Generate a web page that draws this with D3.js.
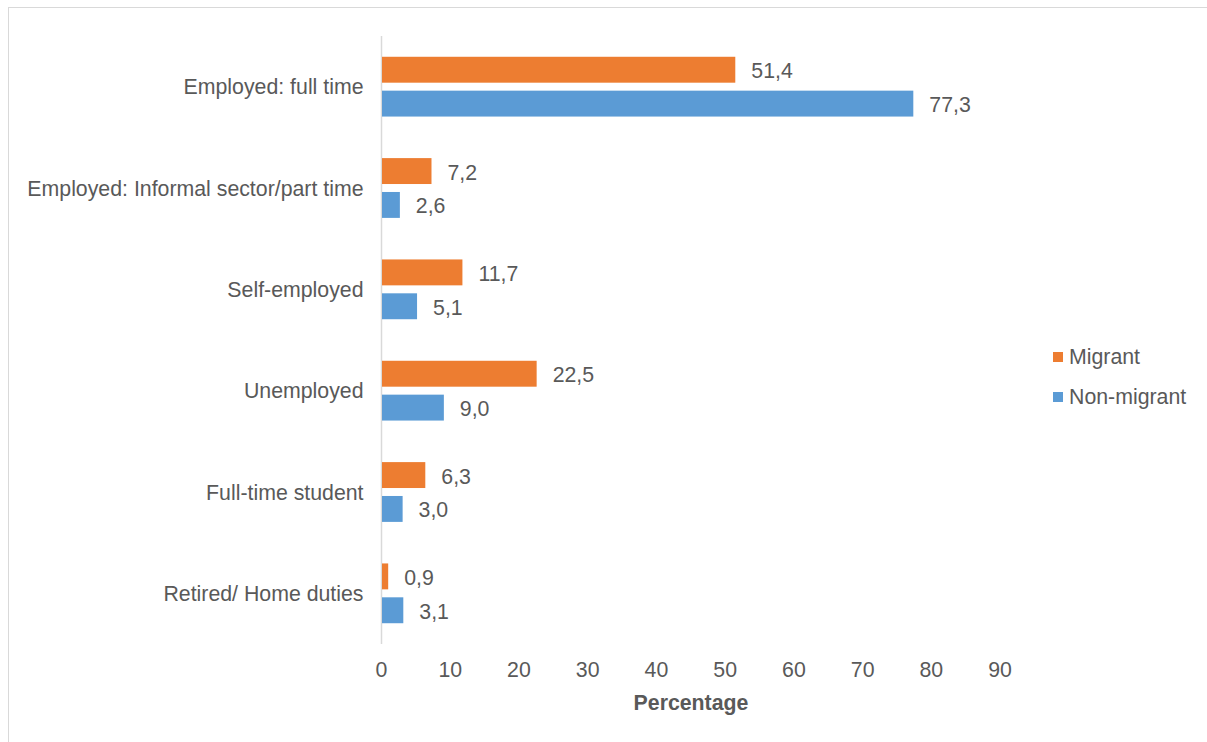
<!DOCTYPE html>
<html>
<head>
<meta charset="utf-8">
<script src="https://cdn.jsdelivr.net/npm/d3@7"></script>
<style>
  html, body { margin: 0; padding: 0; background: #fff; }
  svg { display: block; font-family: "Liberation Sans", Arial, sans-serif; }
</style>
</head>
<body>
<svg id="chart" width="1207" height="742"></svg>
<script>
const categories = ["Employed: full time", "Employed: Informal sector/part time", "Self-employed", "Unemployed", "Full-time student", "Retired/ Home duties"];
const seriesNames = ["Migrant", "Non-migrant"];
const migrant = [51.4, 7.2, 11.7, 22.5, 6.3, 0.9];
const nonMigrant = [77.3, 2.6, 5.1, 9.0, 3.0, 3.1];
const xTicks = [0, 10, 20, 30, 40, 50, 60, 70, 80, 90];
const colors = ["#ED7D31", "#5B9BD5"];

const svg = d3.select("#chart");
const textColor = "#595959";
const fs = 21.3;

// outer frame
svg.append("rect").attr("x", 8.5).attr("y", 7.5).attr("width", 1220).attr("height", 760)
  .attr("fill", "none").attr("stroke", "#D9D9D9").attr("stroke-width", 1);

const x = d3.scaleLinear().domain([0, 90]).range([382, 1000.6]);
const y = d3.scaleBand().domain(categories).range([36, 644]).paddingInner(0.41).paddingOuter(0.205);
const sub = d3.scaleBand().domain(seriesNames).range([0, y.bandwidth()]).paddingInner(0.235);

// axis line
svg.append("line").attr("x1", 381.5).attr("x2", 381.5).attr("y1", 36).attr("y2", 644)
  .attr("stroke", "#D9D9D9").attr("stroke-width", 1.5);

const data = [migrant, nonMigrant];
seriesNames.forEach((s, si) => {
  const g = svg.append("g");
  g.selectAll("rect").data(categories).enter().append("rect")
    .attr("x", x(0))
    .attr("y", (c) => y(c) + sub(s))
    .attr("width", (c, i) => x(data[si][i]) - x(0))
    .attr("height", sub.bandwidth())
    .attr("fill", colors[si]);
  g.selectAll("text").data(categories).enter().append("text")
    .attr("x", (c, i) => x(data[si][i]) + 16)
    .attr("y", (c) => y(c) + sub(s) + sub.bandwidth() / 2 + 1)
    .attr("dy", "0.35em")
    .attr("font-size", fs).attr("fill", textColor)
    .text((c, i) => d3.format(".1f")(data[si][i]).replace(".", ","));
});

// category labels
const yAxis = d3.axisLeft(y).tickSize(0).tickPadding(18);
const ya = svg.append("g").attr("transform", "translate(381.5,1)").call(yAxis);
ya.select(".domain").remove();
ya.selectAll("text").attr("font-size", fs).attr("fill", textColor).attr("font-family", "Liberation Sans, Arial, sans-serif");

// x tick labels
const xAxis = d3.axisBottom(x).tickValues(xTicks).tickSize(0).tickPadding(0).tickFormat(d3.format("d"));
const xa = svg.append("g").attr("transform", "translate(-1,662)").call(xAxis);
xa.select(".domain").remove();
xa.selectAll("text").attr("font-size", fs).attr("fill", textColor).attr("font-family", "Liberation Sans, Arial, sans-serif");

// axis title
svg.append("text").attr("x", 691).attr("y", 710).attr("text-anchor", "middle")
  .attr("font-size", fs).attr("font-weight", "bold").attr("fill", textColor).text("Percentage");

// legend
const legend = svg.append("g");
seriesNames.forEach((s, i) => {
  const ly = 357 + i * 40;
  legend.append("rect").attr("x", 1053).attr("y", ly - 5).attr("width", 10).attr("height", 10).attr("fill", colors[i]);
  legend.append("text").attr("x", 1069).attr("y", ly).attr("dy", "0.35em")
    .attr("font-size", fs).attr("fill", textColor).text(s);
});
</script>
</body>
</html>
